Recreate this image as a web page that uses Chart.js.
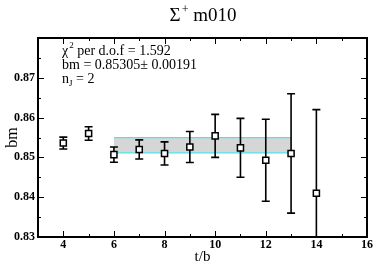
<!DOCTYPE html>
<html>
<head>
<meta charset="utf-8">
<script src="https://cdn.jsdelivr.net/npm/chart.js@4"></script>
<style>
  html, body { margin: 0; padding: 0; background: #fff; }
  #wrap { width: 374px; height: 264px; }
</style>
</head>
<body>
<div id="wrap"><canvas id="c" width="374" height="264"></canvas></div>
<script>
// ---- data ----
const tValues   = [4, 5, 6, 7, 8, 9, 10, 11, 12, 13, 14];
const bmValues  = [0.8536, 0.8560, 0.8507, 0.8520, 0.8510, 0.8526, 0.8554, 0.8524, 0.8493, 0.8510, 0.8410];
const bmErrors  = [0.0015, 0.0017, 0.0019, 0.0024, 0.0029, 0.0039, 0.0054, 0.0074, 0.0103, 0.0150, 0.0210];
const fitRange  = [6, 13];
const fitValue  = 0.85305;
const fitError  = 0.00191;
const xTickLabels = [4, 6, 8, 10, 12, 14, 16];
const yTickLabels = [0.83, 0.84, 0.85, 0.86, 0.87];
const titleMain = 'Σ';
const titleSup = '+';
const titleRest = ' m010';
const chi2Text = '1.592';
const nJ = '2';

const SERIF = '"Liberation Serif", "DejaVu Serif", serif';

const errorBarPlugin = {
  id: 'errorBars',
  beforeDatasetDraw(chart, args) {
    if (args.index !== 0) return;
    const ctx = chart.ctx, xs = chart.scales.x, ys = chart.scales.y, a = chart.chartArea;
    ctx.save();
    ctx.beginPath();
    ctx.rect(a.left, a.top, a.right - a.left, a.bottom - a.top);
    ctx.clip();
    ctx.strokeStyle = '#000';
    ctx.lineWidth = 1.6;
    tValues.forEach((t, i) => {
      const x = xs.getPixelForValue(t);
      const y1 = ys.getPixelForValue(bmValues[i] + bmErrors[i]);
      const y2 = ys.getPixelForValue(bmValues[i] - bmErrors[i]);
      ctx.beginPath();
      ctx.moveTo(x, y1); ctx.lineTo(x, y2);
      ctx.moveTo(x - 4, y1); ctx.lineTo(x + 4, y1);
      ctx.moveTo(x - 4, y2); ctx.lineTo(x + 4, y2);
      ctx.stroke();
    });
    ctx.restore();
  }
};

const framePlugin = {
  id: 'frame',
  afterDraw(chart) {
    const ctx = chart.ctx, xs = chart.scales.x, ys = chart.scales.y, a = chart.chartArea;
    ctx.save();
    ctx.strokeStyle = '#000';
    ctx.lineWidth = 1;
    ctx.beginPath();
    // x ticks (major at labelled values, minor every 1)
    for (let v = xs.min; v <= xs.max + 1e-9; v += 1) {
      const x = Math.round(xs.getPixelForValue(v)) + 0.5;
      const major = xTickLabels.includes(v);
      const len = major ? 6 : 3;
      ctx.moveTo(x, a.bottom); ctx.lineTo(x, a.bottom - len);
      ctx.moveTo(x, a.top); ctx.lineTo(x, a.top + len);
    }
    // y ticks (major every 0.01, minor every 0.005)
    for (let k = 0; k <= 10; k++) {
      const v = ys.min + k * 0.005;
      const y = Math.round(ys.getPixelForValue(v)) + 0.5;
      const len = (k % 2 === 0) ? 6 : 3;
      ctx.moveTo(a.left, y); ctx.lineTo(a.left + len, y);
      ctx.moveTo(a.right, y); ctx.lineTo(a.right - len, y);
    }
    ctx.stroke();
    ctx.lineWidth = 2;
    ctx.strokeRect(a.left, a.top, a.right - a.left, a.bottom - a.top);

    // title with superscript
    ctx.fillStyle = '#000';
    ctx.textBaseline = 'alphabetic';
    const fBig = '19px ' + SERIF, fSup = '12px ' + SERIF;
    ctx.font = fBig;
    const w1 = ctx.measureText(titleMain).width;
    const w3 = ctx.measureText(titleRest).width;
    ctx.font = fSup;
    const w2 = ctx.measureText(titleSup).width;
    const cx = (a.left + a.right) / 2;
    let x = cx - (w1 + w2 + w3) / 2;
    ctx.font = fBig; ctx.fillText(titleMain, x, 21); x += w1;
    ctx.font = fSup; ctx.fillText(titleSup, x + 1, 13); x += w2 + 1;
    ctx.font = fBig; ctx.fillText(titleRest, x, 21);

    // annotation
    const f = '14px ' + SERIF, fs = '9px ' + SERIF;
    const tx = 62;
    ctx.font = f;
    ctx.fillText('χ', tx, 55);
    let wx = ctx.measureText('χ').width;
    ctx.font = fs; ctx.fillText('2', tx + wx + 1, 48);
    let ws = ctx.measureText('2').width;
    ctx.font = f; ctx.fillText(' per d.o.f = ' + chi2Text, tx + wx + ws + 1, 55);
    ctx.fillText('bm = ' + fitValue.toFixed(5) + '± ' + fitError.toFixed(5), tx, 69);
    ctx.fillText('n', tx, 83);
    const wn = ctx.measureText('n').width;
    ctx.font = fs; ctx.fillText('J', tx + wn, 86);
    const wj = ctx.measureText('J').width;
    ctx.font = f; ctx.fillText(' = ' + nJ, tx + wn + wj, 83);
    ctx.restore();
  }
};

const points = tValues.map((t, i) => ({ x: t, y: bmValues[i] }));
const bandUpper = fitRange.map(t => ({ x: t, y: fitValue + fitError }));
const bandLower = fitRange.map(t => ({ x: t, y: fitValue - fitError }));

new Chart(document.getElementById('c'), {
  type: 'scatter',
  data: {
    datasets: [
      {
        data: points,
        showLine: false,
        pointStyle: 'rect',
        pointRadius: 4.3,
        pointBorderWidth: 1.5,
        pointBackgroundColor: '#fff',
        pointBorderColor: '#000'
      },
      {
        data: bandUpper,
        showLine: true,
        pointRadius: 0,
        borderColor: '#4fe3e8',
        borderWidth: 1.2,
        fill: false
      },
      {
        data: bandLower,
        showLine: true,
        pointRadius: 0,
        borderColor: '#4fe3e8',
        borderWidth: 1.2,
        backgroundColor: '#d6d6d6',
        fill: '-1'
      }
    ]
  },
  options: {
    responsive: false,
    animation: false,
    devicePixelRatio: 1,
    layout: { padding: { left: 0, right: 7, top: 38, bottom: 0 } },
    plugins: {
      legend: { display: false },
      tooltip: { enabled: false },
      filler: { propagate: false }
    },
    scales: {
      x: {
        type: 'linear',
        min: 3, max: 16,
        grid: { display: false, drawTicks: false },
        border: { display: false },
        afterBuildTicks: s => { s.ticks = xTickLabels.map(v => ({ value: v })); },
        afterFit: s => { s.height = 27; },
        ticks: {
          padding: 1,
          maxRotation: 0,
          autoSkip: false,
          color: '#000',
          font: { family: SERIF, size: 12, weight: 'bold' },
          callback: v => String(v)
        },
        title: {
          display: true, text: 't/b', color: '#000',
          padding: { top: 0, bottom: 0 },
          font: { family: SERIF, size: 15, lineHeight: 0.9 }
        }
      },
      y: {
        type: 'linear',
        min: 0.83, max: 0.88,
        grid: { display: false, drawTicks: false },
        border: { display: false },
        afterBuildTicks: s => { s.ticks = yTickLabels.map(v => ({ value: v })); },
        afterFit: s => { s.width = 38; },
        ticks: {
          padding: 3,
          autoSkip: false,
          color: '#000',
          font: { family: SERIF, size: 12, weight: 'bold' },
          callback: v => Number(v).toFixed(2)
        },
        title: {
          display: true, text: 'bm', color: '#000',
          padding: { top: 3, bottom: 0 },
          font: { family: SERIF, size: 16, lineHeight: 1.2 }
        }
      }
    }
  },
  plugins: [errorBarPlugin, framePlugin]
});
</script>
</body>
</html>
